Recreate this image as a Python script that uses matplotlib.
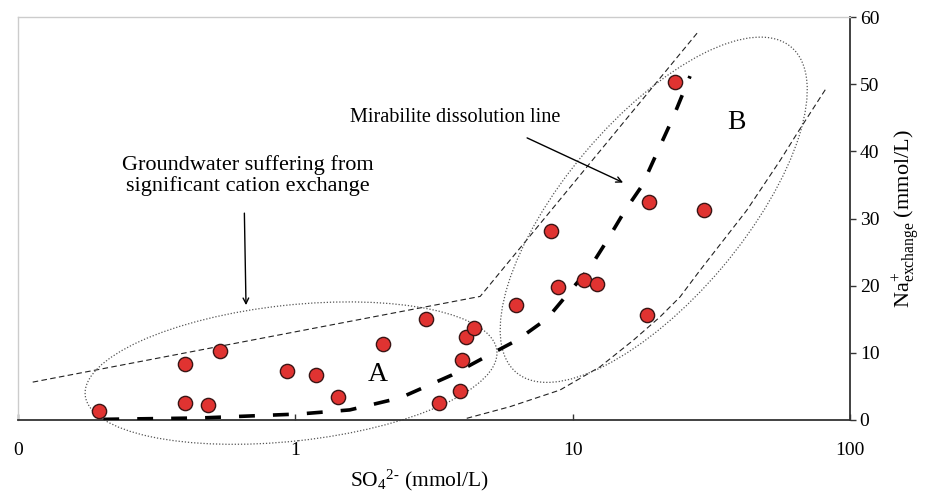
import numpy as np
import matplotlib
matplotlib.use("Agg")
import matplotlib.pyplot as plt
from matplotlib.patches import Ellipse
import matplotlib.transforms as mtransforms

plt.rcParams['font.family'] = ['Liberation Serif', 'DejaVu Serif']
plt.rcParams['mathtext.fontset'] = 'custom'
plt.rcParams['mathtext.rm'] = 'Liberation Serif'
plt.rcParams['mathtext.it'] = 'Liberation Serif:italic'

# ---- data ----
so4 = [0.196, 0.40, 0.40, 0.484, 0.535, 0.933, 1.19, 1.43, 2.07, 2.96, 3.30,
       3.93, 4.0, 4.13, 4.41, 6.25, 8.36, 8.85, 10.99, 12.24, 18.9, 18.6, 29.8, 23.4]
na_ex = [1.3, 8.3, 2.5, 2.2, 10.25, 7.3, 6.7, 3.4, 11.3, 15.1, 2.5,
         4.3, 8.9, 12.3, 13.7, 17.1, 28.1, 19.75, 20.8, 20.2, 32.4, 15.7, 31.2, 50.3]

# mirabilite dissolution curve
mir_x = [0.203, 0.453, 1.04, 1.57, 2.39, 3.67, 4.75, 6.31, 8.09, 9.39, 11.55,
         13.3, 15.45, 17.8, 20.3, 23.0, 26.5]
mir_y = [0.1, 0.3, 0.9, 1.5, 3.3, 6.7, 9.2, 11.9, 15.1, 18.3, 22.7,
         26.7, 31.2, 34.9, 40.1, 45.0, 51.2]

# upper boundary line (cation exchange)
up_x = [0.113, 4.64, 28.1]
up_y = [5.64, 18.4, 57.6]

# lower boundary line
lo_x = [4.15, 5.94, 9.00, 12.55, 16.55, 20.65, 24.38, 28.8, 42.4, 55.9, 64.3, 82.4]
lo_y = [0.25, 1.98, 4.46, 7.92, 11.88, 15.35, 18.32, 22.3, 31.2, 38.6, 42.6, 49.5]

xticks = [0.1, 1, 10, 100]
xticklabels = ['0', '1', '10', '100']
yticks = [0, 10, 20, 30, 40, 50, 60]

fig = plt.figure(figsize=(9.3, 4.96), dpi=100)
ax = fig.add_axes([18/930, 1-420/496, 832/930, 403/496])

ax.set_xscale('log')
ax.set_xlim(0.1, 100)
ax.set_ylim(0, 60)

# boundary lines
ax.plot(up_x, up_y, color='#222222', lw=0.8, ls=(0, (5, 3)), zorder=2)
ax.plot(lo_x, lo_y, color='#222222', lw=0.8, ls=(0, (5, 3)), zorder=2)

# mirabilite line
ax.plot(mir_x, mir_y, color='black', lw=2.6, dashes=(4.4, 5.0), zorder=3)

# ellipses (center in data coords, size in inches of display)
def add_ellipse(cx, cy, w_in, h_in, angle):
    tr = fig.dpi_scale_trans + mtransforms.ScaledTranslation(cx, cy, ax.transData)
    e = Ellipse((0, 0), w_in, h_in, angle=angle, transform=tr, fill=False,
                ec='#555555', lw=0.9, ls=(0, (1, 1.5)), zorder=2, clip_on=False)
    ax.add_patch(e)

add_ellipse(0.965, 6.98, 4.14, 1.36, 6.2)
add_ellipse(19.6, 31.3, 4.26, 1.79, 49.8)

# points
ax.scatter(so4, na_ex, s=105, c='#E03331', edgecolors='#3a1515', linewidths=1.0, zorder=4)

# texts
ax.text(1.99, 6.7, 'A', fontsize=20, ha='center', va='center')
ax.text(38.8, 44.3, 'B', fontsize=20, ha='center', va='center')

ax.text(0.675, 36.4, 'Groundwater suffering from\nsignificant cation exchange',
        fontsize=16, ha='center', va='center', linespacing=1.05)
ax.annotate('', xy=(0.664, 17.1), xytext=(0.655, 30.8),
            arrowprops=dict(arrowstyle='->', color='black', lw=1.0, shrinkA=0, shrinkB=0))

ax.text(3.77, 45.0, 'Mirabilite dissolution line', fontsize=14.6, ha='center', va='center')
ax.annotate('', xy=(15.2, 35.35), xytext=(6.85, 42.0),
            arrowprops=dict(arrowstyle='->', color='black', lw=1.0, shrinkA=0, shrinkB=0))

# axes styling
ax.spines['left'].set_color('#cccccc')
ax.spines['top'].set_color('#cccccc')
ax.spines['left'].set_linewidth(1.0)
ax.spines['top'].set_linewidth(1.0)
ax.spines['bottom'].set_color('#333333')
ax.spines['right'].set_color('#333333')
ax.spines['bottom'].set_linewidth(1.3)
ax.spines['right'].set_linewidth(1.3)

ax.set_xticks(xticks)
ax.set_xticklabels(xticklabels)
ax.xaxis.set_minor_locator(matplotlib.ticker.NullLocator())
ax.tick_params(axis='x', direction='in', length=4, width=1, pad=16, labelsize=14,
               color='#333333')

ax.yaxis.tick_right()
ax.yaxis.set_label_position('right')
ax.set_yticks(yticks)
ax.tick_params(axis='y', direction='out', length=4, width=1, pad=3, labelsize=14,
               color='#333333')

ax.set_xlabel('SO$_4$$^{2\u2010}$ (mmol/L)', fontsize=15.5)
ax.xaxis.set_label_coords(0.483, -0.118)
ax.set_ylabel('Na$^{+}_{\\mathrm{exchange}}$ (mmol/L)', fontsize=16, labelpad=8)

fig.savefig('out.png', dpi=100)
